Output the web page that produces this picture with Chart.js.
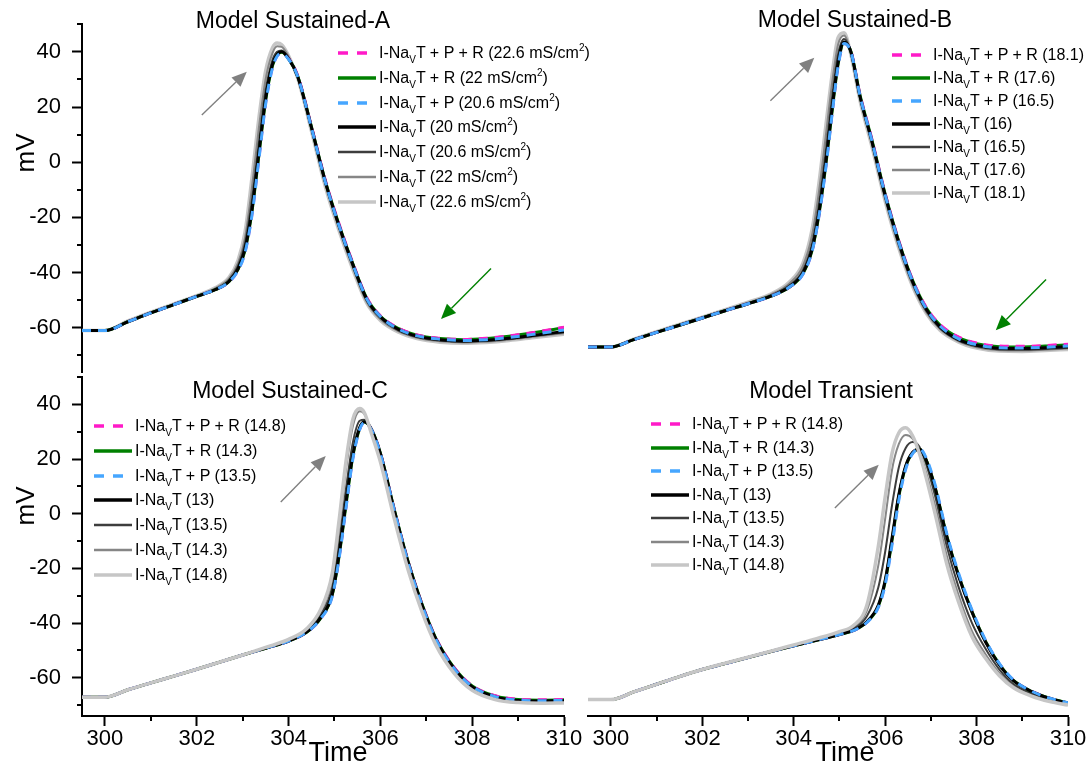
<!DOCTYPE html>
<html>
<head>
<meta charset="utf-8">
<script src="https://cdn.jsdelivr.net/npm/chart.js@4.4.0/dist/chart.umd.min.js"></script>
<style>
  html, body { margin: 0; padding: 0; background: #fff; }
  body { width: 1091px; height: 763px; position: relative; overflow: hidden; font-family: "Liberation Sans", Arial, sans-serif; color: #000; }
  canvas { position: absolute; }
  .title { position: absolute; font-size: 23px; white-space: nowrap; transform: translate(-50%, -50%); }
  .ylab { position: absolute; font-size: 26px; white-space: nowrap; transform: translate(-50%, -50%) rotate(-90deg); }
  .xlab { position: absolute; font-size: 27px; white-space: nowrap; transform: translate(-50%, -50%); }
  .legend { position: absolute; top: 0; font-size: 16px; }
  .row { position: absolute; left: 0; height: 20px; display: flex; align-items: center; white-space: nowrap; }
  .row svg { display: block; margin-right: 3px; }
  .row sub { font-size: 10px; vertical-align: -5px; line-height: 0; }
  .row sup { font-size: 10px; vertical-align: 7px; line-height: 0; }
</style>
</head>
<body>
<canvas id="cA" width="590" height="400" style="left:0;top:0"></canvas>
<canvas id="cB" width="551" height="400" style="left:540px;top:0"></canvas>
<canvas id="cC" width="590" height="413" style="left:0;top:350px"></canvas>
<canvas id="cD" width="551" height="413" style="left:540px;top:350px"></canvas>

<div class="title" style="left:293px;top:20px">Model Sustained-A</div>
<div class="title" style="left:855px;top:19px">Model Sustained-B</div>
<div class="title" style="left:290px;top:390px">Model Sustained-C</div>
<div class="title" style="left:831px;top:390px">Model Transient</div>
<div class="ylab" style="left:25px;top:153px">mV</div>
<div class="ylab" style="left:25px;top:506px">mV</div>
<div class="xlab" style="left:338px;top:752px">Time</div>
<div class="xlab" style="left:845px;top:752px">Time</div>

<script>
// ---- data ----

// legend parts
var kinds = [' + P + R', ' + R', ' + P', '', '', '', ''];
var gA = ['22.6', '22', '20.6', '20', '20.6', '22', '22.6'];
var gB = ['18.1', '17.6', '16.5', '16', '16.5', '17.6', '18.1'];
var gC = ['14.8', '14.3', '13.5', '13', '13.5', '14.3', '14.8'];
var gD = ['14.8', '14.3', '13.5', '13', '13.5', '14.3', '14.8'];

// Model Sustained-A
var tA = [299.5, 300, 300.5, 301, 301.5, 302, 302.4, 302.7, 302.9, 303.05, 303.2, 303.35, 303.5, 303.65, 303.75, 303.85, 304, 304.2, 304.5, 304.8, 305.1, 305.4, 305.7, 306, 306.4, 306.8, 307.3, 307.8, 308.3, 308.8, 309.4, 310];
var aPR = [-61, -61, -57.8, -54.6, -51.6, -48.6, -46.2, -43.4, -39, -32.5, -19, 1, 21.5, 34.5, 38.5, 39.6, 37.6, 31.3, 12.9, -6.5, -22.4, -36.5, -49, -55.6, -60.2, -62.6, -63.8, -64.2, -63.8, -62.9, -61.5, -59.8];
var aR = [-61, -61, -57.8, -54.6, -51.6, -48.6, -46.2, -43.3, -38.8, -32, -18.2, 2, 22.3, 35, 38.8, 39.8, 37.5, 31.1, 12.7, -6.8, -22.7, -36.8, -49.2, -55.8, -60.3, -62.7, -63.9, -64.3, -63.9, -63, -61.6, -60];
var aP = [-61, -61, -57.8, -54.6, -51.6, -48.6, -46.2, -43.4, -39.2, -32.8, -19.5, 0.5, 21, 34.2, 38.4, 39.4, 37.3, 31, 12.4, -7.1, -23, -37, -49.4, -55.9, -60.5, -62.9, -64.1, -64.6, -64.3, -63.5, -62.2, -60.8];
var a20 = [-61, -61, -57.8, -54.6, -51.6, -48.6, -46.2, -43.2, -38.6, -31.5, -17.5, 3, 23, 35.5, 39, 40, 37.5, 31, 12.5, -7, -23, -37, -49.5, -56, -60.6, -63, -64.3, -64.8, -64.5, -63.8, -62.6, -61.3];
var a206 = [-61, -61, -57.7, -54.5, -51.5, -48.5, -46, -42.8, -37.6, -29.5, -14, 6.5, 26, 37, 40, 40.5, 37.8, 30.8, 12.2, -7.4, -23.5, -37.5, -50, -56.4, -61, -63.3, -64.6, -65, -64.7, -64, -62.8, -61.6];
var a22 = [-61, -61, -57.6, -54.4, -51.4, -48.4, -45.7, -42.2, -36.5, -27.5, -9.5, 12, 30, 39.5, 42, 41.8, 38.3, 30.6, 11.7, -8.1, -24.2, -38.2, -50.6, -56.9, -61.3, -63.6, -64.9, -65.3, -65, -64.3, -63.1, -62];
var a226 = [-61, -61, -57.5, -54.3, -51.3, -48.3, -45.5, -41.8, -35.5, -25.5, -6, 15.5, 33, 41.5, 43.2, 42.6, 38.6, 30.4, 11.2, -8.8, -24.8, -38.8, -51, -57.3, -61.6, -63.9, -65.2, -65.6, -65.3, -64.6, -63.4, -62.3];

// Model Sustained-B
var tB = [299.5, 300, 300.5, 301, 301.5, 302, 302.5, 303, 303.5, 303.9, 304.2, 304.4, 304.55, 304.7, 304.85, 304.97, 305.1, 305.25, 305.45, 305.7, 306, 306.3, 306.6, 306.9, 307.2, 307.6, 308, 308.5, 309, 309.5, 310];
var bPR = [-67, -67, -64.4, -61.8, -59.2, -56.6, -54, -51.5, -48.8, -45.6, -40.8, -32.6, -20, -2.5, 18.5, 34, 42, 39.2, 23.6, 8.2, -11.9, -29, -42.9, -52.8, -59, -63.4, -65.6, -66.7, -66.8, -66.5, -66];
var bR = [-67, -67, -64.4, -61.8, -59.2, -56.6, -54, -51.5, -48.8, -45.6, -40.7, -32.4, -19.6, -2, 19, 34.4, 42.2, 39.1, 23.4, 8, -12.1, -29.2, -43.1, -53, -59.2, -63.6, -65.8, -66.9, -67, -66.7, -66.2];
var bP = [-67, -67, -64.4, -61.8, -59.2, -56.6, -54, -51.5, -48.8, -45.6, -40.9, -32.8, -20.3, -3, 18, 33.6, 41.9, 39, 23.2, 7.7, -12.4, -29.5, -43.4, -53.3, -59.5, -64, -66.2, -67.3, -67.4, -67.1, -66.7];
var b16 = [-67, -67, -64.4, -61.8, -59.2, -56.6, -54, -51.5, -48.8, -45.5, -40.5, -32, -19, -1, 20, 35, 42.5, 39, 23, 7.5, -12.5, -29.5, -43.5, -53.5, -59.8, -64.3, -66.4, -67.5, -67.6, -67.3, -66.9];
var b165 = [-67, -67, -64.3, -61.7, -59.1, -56.5, -53.9, -51.3, -48.5, -45, -39.5, -30, -16, 3, 24, 38, 43.5, 38.8, 22.6, 7, -13.2, -30.3, -44.1, -54, -60.2, -64.6, -66.8, -67.9, -68, -67.7, -67.3];
var b176 = [-67, -67, -64.3, -61.6, -59, -56.4, -53.7, -51.1, -48.2, -44.3, -38, -27, -11.5, 8.5, 29, 41.5, 44.8, 38.4, 22, 6.3, -14, -31, -44.7, -54.5, -60.6, -64.9, -67.1, -68.2, -68.3, -68, -67.6];
var b181 = [-67, -67, -64.2, -61.5, -58.9, -56.3, -53.6, -50.9, -48, -43.8, -37, -25, -8.5, 12, 32, 44, 45.8, 38, 21.4, 5.6, -14.6, -31.6, -45.2, -54.9, -61, -65.2, -67.4, -68.5, -68.6, -68.3, -67.9];

// Model Sustained-C
var tC = [299.5, 300, 300.5, 301, 301.5, 302, 302.5, 303, 303.5, 304, 304.4, 304.7, 304.95, 305.1, 305.25, 305.4, 305.55, 305.65, 305.8, 306, 306.3, 306.6, 306.9, 307.2, 307.6, 308, 308.5, 309, 309.5, 310];
var cPR = [-67.1, -67.1, -64.4, -61.9, -59.4, -56.9, -54.3, -51.7, -49.2, -46.6, -43.3, -38.3, -30, -16, 2.5, 20.5, 31, 33.4, 31, 22.2, 1.8, -17.2, -32.7, -45.2, -56.1, -62.9, -66.6, -67.9, -68.1, -68];
var cR = [-67.1, -67.1, -64.4, -61.9, -59.4, -56.9, -54.3, -51.7, -49.2, -46.6, -43.3, -38.2, -29.8, -15.6, 3, 21, 31.2, 33.5, 31, 22.1, 1.7, -17.3, -32.8, -45.3, -56.2, -63, -66.7, -68, -68.2, -68.1];
var cP = [-67.1, -67.1, -64.4, -61.9, -59.4, -56.9, -54.3, -51.7, -49.2, -46.6, -43.3, -38.4, -30.3, -16.5, 2, 20, 30.8, 33.3, 30.9, 22, 1.5, -17.6, -33.1, -45.6, -56.5, -63.2, -66.9, -68.2, -68.4, -68.3];
var c13 = [-67.1, -67.1, -64.4, -61.9, -59.4, -56.9, -54.3, -51.7, -49.2, -46.6, -43.2, -38, -29.5, -15, 4, 21.5, 31.5, 33.6, 31, 22, 1.5, -17.5, -33, -45.5, -56.5, -63.3, -67, -68.3, -68.5, -68.4];
var c135 = [-67.1, -67.1, -64.4, -61.9, -59.4, -56.9, -54.3, -51.7, -49.1, -46.4, -42.8, -37, -27, -11, 9, 26, 34, 34.4, 30.5, 21, 0.5, -18.5, -34, -46.3, -57.2, -63.8, -67.4, -68.6, -68.8, -68.7];
var c143 = [-67.1, -67.1, -64.4, -61.9, -59.4, -56.9, -54.3, -51.7, -49, -46.2, -42.3, -35.8, -24, -5.5, 16, 32, 37.5, 36.5, 30, 19.8, -0.8, -19.6, -35, -47.2, -57.8, -64.3, -67.8, -68.9, -69.1, -69];
var c148 = [-67.1, -67.1, -64.4, -61.9, -59.4, -56.9, -54.3, -51.7, -48.9, -46, -42, -35, -22, -2.5, 19, 34.5, 38.5, 37, 29.6, 19, -1.6, -20.3, -35.6, -47.7, -58.2, -64.6, -68, -69.1, -69.3, -69.2];

// Model Transient
var tD = [299.5, 300, 300.5, 301, 301.5, 302, 302.5, 303, 303.5, 304, 304.5, 305, 305.3, 305.6, 305.85, 306, 306.15, 306.3, 306.45, 306.6, 306.75, 306.9, 307.1, 307.35, 307.6, 307.9, 308.2, 308.5, 308.8, 309.2, 309.6, 310];
var dPR = [-68, -68, -65.2, -62.4, -59.6, -57, -54.8, -52.6, -50.4, -48.3, -46.3, -44.2, -42.8, -39.7, -34, -25.5, -10.5, 5.8, 16.8, 22.2, 23.7, 19.8, 9.5, -8, -22, -35.6, -46.7, -55, -60.8, -64.9, -67.5, -69.2];
var dR = [-68, -68, -65.2, -62.4, -59.6, -57, -54.8, -52.6, -50.4, -48.3, -46.3, -44.2, -42.8, -39.6, -33.8, -25, -9.8, 6.4, 17.2, 22.3, 23.6, 19.6, 9.2, -8.2, -22.2, -35.8, -46.8, -55.1, -60.9, -65, -67.5, -69.2];
var dP = [-68, -68, -65.2, -62.4, -59.6, -57, -54.8, -52.6, -50.4, -48.3, -46.3, -44.2, -42.8, -39.8, -34.3, -26, -11.5, 5, 16.3, 22, 23.8, 20.3, 10.2, -7.4, -21.4, -35.2, -46.4, -54.8, -60.7, -64.9, -67.5, -69.2];
var d13 = [-68, -68, -65.2, -62.4, -59.6, -57, -54.8, -52.6, -50.4, -48.3, -46.3, -44.2, -42.7, -39.5, -33.5, -24.5, -9, 7, 17.5, 22.4, 23.6, 19.5, 9, -8.5, -22.5, -36, -47, -55.3, -61, -65, -67.6, -69.3];
var d135 = [-68, -68, -65.2, -62.4, -59.6, -57, -54.8, -52.6, -50.4, -48.2, -46.1, -43.8, -42.2, -37.5, -27, -14, 3, 17, 24, 26.2, 24.5, 18, 6, -12, -26.5, -40, -49.5, -57, -62.2, -65.8, -68, -69.6];
var d143 = [-68, -68, -65.2, -62.4, -59.6, -57, -54.7, -52.5, -50.3, -48.1, -45.9, -43.4, -41.6, -35.5, -19, -2, 16, 25.5, 28.8, 27.5, 22.8, 15, 2.5, -15.5, -29.5, -43, -51.5, -58.3, -63, -66.3, -68.4, -69.8];
var d148 = [-68, -68, -65.2, -62.4, -59.6, -57, -54.7, -52.5, -50.3, -48, -45.7, -43.1, -41, -33.5, -12, 6, 22, 29.6, 31.4, 28.5, 22, 13, -0.5, -18.5, -32, -45, -53, -59.3, -63.6, -66.7, -68.7, -70];

// annotation arrows [t0, v0, t1, v1] (tail -> head)
var arrowA1 = [302.11, 17.1, 303.09, 32.8];
var arrowA2 = [308.41, -38.5, 307.32, -56.8];
var arrowB1 = [303.49, 21.4, 304.45, 36.8];
var arrowB2 = [309.52, -42.8, 308.42, -61];
var arrowC1 = [303.83, 4.3, 304.81, 21.1];
var arrowD1 = [304.9, 2.1, 305.86, 17.9];

// ---- styles ----
var FONT = '"Liberation Sans", Arial, sans-serif';
Chart.defaults.font.family = FONT;
Chart.defaults.color = '#000';

var lineStyles = [
    { color: '#ff1ac8', width: 3, dash: [9, 7] },
    { color: '#008000', width: 3, dash: [] },
    { color: '#46a6ff', width: 3, dash: [9, 7] },
    { color: '#000000', width: 3, dash: [] },
    { color: '#3d3d3d', width: 2, dash: [] },
    { color: '#868686', width: 2, dash: [] },
    { color: '#c6c6c6', width: 3.5, dash: [] }
];
// draw order per series (lower number is drawn on top)
var orderTop = [2, 3, 0, 1, 4, 5, 6];
var orderBottom = [2, 3, 0, 1, 4, 5, -1];

// minor ticks (shorter than the major ones Chart.js draws)
var minorTicks = {
    id: 'minorTicks',
    afterDraw: function (chart) {
        var ctx = chart.ctx, area = chart.chartArea;
        var sx = chart.scales.x, sy = chart.scales.y;
        ctx.save();
        ctx.strokeStyle = '#000';
        ctx.lineWidth = 2;
        if (sx.options.display) {
            sx.ticks.forEach(function (tk) {
                if (tk.value % 2 !== 0) {
                    var px = Math.round(sx.getPixelForValue(tk.value));
                    ctx.beginPath();
                    ctx.moveTo(px, area.bottom);
                    ctx.lineTo(px, area.bottom + 5);
                    ctx.stroke();
                }
            });
        }
        if (sy.options.display) {
            sy.ticks.forEach(function (tk) {
                if (tk.value % 20 !== 0) {
                    var py = Math.round(sy.getPixelForValue(tk.value));
                    ctx.beginPath();
                    ctx.moveTo(area.left, py);
                    ctx.lineTo(area.left - 5, py);
                    ctx.stroke();
                }
            });
        }
        ctx.restore();
    }
};

// arrows placed in data units
var arrowPlugin = {
    id: 'arrows',
    afterDatasetsDraw: function (chart, args, opts) {
        var ctx = chart.ctx, sx = chart.scales.x, sy = chart.scales.y;
        (opts.list || []).forEach(function (a) {
            var x0 = sx.getPixelForValue(a.pts[0]), y0 = sy.getPixelForValue(a.pts[1]);
            var x1 = sx.getPixelForValue(a.pts[2]), y1 = sy.getPixelForValue(a.pts[3]);
            var ang = Math.atan2(y1 - y0, x1 - x0);
            var len = 15, half = 6.5;
            var bx = x1 - len * Math.cos(ang), by = y1 - len * Math.sin(ang);
            ctx.save();
            ctx.strokeStyle = a.color;
            ctx.fillStyle = a.color;
            ctx.lineWidth = 1.4;
            ctx.beginPath();
            ctx.moveTo(x0, y0);
            ctx.lineTo(bx, by);
            ctx.stroke();
            ctx.beginPath();
            ctx.moveTo(x1, y1);
            ctx.lineTo(bx + half * Math.sin(ang), by - half * Math.cos(ang));
            ctx.lineTo(bx - half * Math.sin(ang), by + half * Math.cos(ang));
            ctx.closePath();
            ctx.fill();
            ctx.restore();
        });
    }
};

function majorTickColor(step) {
    return function (c) {
        return (c.tick && c.tick.value % step === 0) ? '#000' : 'rgba(0,0,0,0)';
    };
}

function drawPanel(p) {
    var datasets = p.series.map(function (vals, i) {
        var st = lineStyles[i];
        return {
            label: 'I-NaVT' + kinds[i] + ' (' + p.g[i] + ')',
            data: p.times.map(function (t, j) { return { x: t, y: vals[j] }; }),
            borderColor: st.color,
            borderWidth: st.width,
            borderDash: st.dash,
            order: p.order[i],
            pointRadius: 0,
            cubicInterpolationMode: 'monotone',
            fill: false
        };
    });

    new Chart(document.getElementById(p.id), {
        type: 'line',
        data: { datasets: datasets },
        options: {
            responsive: false,
            animation: false,
            devicePixelRatio: 1,
            layout: { padding: p.pad },
            plugins: {
                legend: { display: false },
                tooltip: { enabled: false },
                arrows: { list: p.arrows }
            },
            scales: {
                x: {
                    type: 'linear',
                    min: 299.5,
                    max: 310,
                    display: p.showX,
                    border: { display: true, color: '#000', width: 2 },
                    grid: { display: true, drawOnChartArea: false, drawTicks: true, tickLength: 10, tickWidth: 2, tickColor: majorTickColor(2) },
                    ticks: {
                        stepSize: 1, includeBounds: false, autoSkip: false, maxRotation: 0, padding: 0,
                        font: { size: 22 },
                        callback: function (v) { return v % 2 === 0 ? String(v) : ''; }
                    },
                    afterFit: function (s) { if (p.showX) s.height = 47; }
                },
                y: {
                    type: 'linear',
                    min: p.yMin,
                    max: 50,
                    display: p.showY,
                    border: { display: true, color: '#000', width: 2 },
                    grid: { display: true, drawOnChartArea: false, drawTicks: true, tickLength: 10, tickWidth: 2, tickColor: majorTickColor(20) },
                    ticks: {
                        stepSize: 10, includeBounds: false, autoSkip: false, padding: 11,
                        font: { size: 22 },
                        callback: function (v) { return v % 20 === 0 ? String(v) : ''; }
                    },
                    afterFit: function (s) { if (p.showY) s.width = 82; }
                }
            }
        },
        plugins: [minorTicks, arrowPlugin]
    });

    // legend as text
    var box = document.createElement('div');
    box.className = 'legend';
    box.style.left = p.legend[0] + 'px';
    lineStyles.forEach(function (st, i) {
        var row = document.createElement('div');
        row.className = 'row';
        row.style.top = (p.legend[1] + i * p.legend[2] - 10) + 'px';
        var dash = st.dash.length ? ' stroke-dasharray="10 9"' : '';
        row.innerHTML = '<svg width="38" height="8"><line x1="0" y1="4" x2="38" y2="4" stroke="' + st.color +
            '" stroke-width="' + (st.width === 2 ? 2.5 : 3.5) + '"' + dash + '/></svg>' +
            '<span>I-Na<sub>V</sub>T' + kinds[i] + ' (' + p.g[i] + p.unit + ')</span>';
        box.appendChild(row);
    });
    document.body.appendChild(box);
}

var unitA = ' mS/cm<sup>2</sup>';

drawPanel({
    id: 'cA', times: tA, series: [aPR, aR, aP, a20, a206, a22, a226], g: gA, unit: unitA,
    yMin: -76, showX: false, showY: true, order: orderTop,
    pad: { top: 21, left: 0, right: 26, bottom: 28 },
    arrows: [{ pts: arrowA1, color: '#808080' }, { pts: arrowA2, color: '#008000' }],
    legend: [338, 53, 24.8]
});
drawPanel({
    id: 'cB', times: tB, series: [bPR, bR, bP, b16, b165, b176, b181], g: gB, unit: '',
    yMin: -76, showX: false, showY: false, order: orderTop,
    pad: { top: 21, left: 48, right: 23, bottom: 28 },
    arrows: [{ pts: arrowB1, color: '#808080' }, { pts: arrowB2, color: '#008000' }],
    legend: [892, 55, 23]
});
drawPanel({
    id: 'cC', times: tC, series: [cPR, cR, cP, c13, c135, c143, c148], g: gC, unit: '',
    yMin: -74, showX: true, showY: true, order: orderBottom,
    pad: { top: 27, left: 0, right: 26, bottom: 0 },
    arrows: [{ pts: arrowC1, color: '#808080' }],
    legend: [94, 426, 24.8]
});
drawPanel({
    id: 'cD', times: tD, series: [dPR, dR, dP, d13, d135, d143, d148], g: gD, unit: '',
    yMin: -74, showX: true, showY: false, order: orderBottom,
    pad: { top: 27, left: 48, right: 23, bottom: 0 },
    arrows: [{ pts: arrowD1, color: '#808080' }],
    legend: [651, 424, 23.5]
});
</script>
</body>
</html>
